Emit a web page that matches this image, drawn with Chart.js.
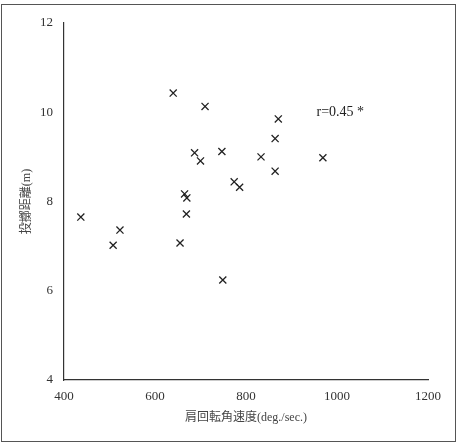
<!DOCTYPE html>
<html>
<head>
<meta charset="utf-8">
<script src="https://cdn.jsdelivr.net/npm/chart.js@4"></script>
<style>
    body { margin: 0; background: #fff; }
    #wrap { position: relative; width: 461px; height: 444px; }
    #frame { position: absolute; left: 1px; top: 4px; width: 453px; height: 436px; border: 1.5px solid #555; }
    canvas { position: absolute; left: 0; top: 0; }
</style>
</head>
<body>
<div id="wrap">
    <div id="frame"></div>
    <canvas id="myChart" width="461" height="444"></canvas>
</div>
<script>
// shoulder rotation angular velocity (deg./sec.)
var speed = [437, 508, 523, 640, 655, 665, 670, 669, 710, 687, 700, 747, 749, 774, 786, 833, 864, 864, 871, 969];
// throwing distance (m)
var distance = [7.65, 7.02, 7.36, 10.43, 7.07, 8.17, 8.08, 7.72, 10.13, 9.09, 8.91, 9.12, 6.24, 8.44, 8.32, 9.0, 9.41, 8.68, 9.85, 8.98];
var xTicks = [400, 600, 800, 1000, 1200];
var yTicks = [4, 6, 8, 10, 12];
var note = "r=0.45 *";

var fontFamily = "'Liberation Serif', 'Noto Sans CJK JP', serif";

var points = speed.map(function (v, i) {
    return { x: v, y: distance[i] };
});

var notePlugin = {
    id: "note",
    afterDraw: function (chart) {
        var ctx = chart.ctx;
        var x = chart.scales.x.getPixelForValue(955);
        var y = chart.scales.y.getPixelForValue(10);
        ctx.save();
        ctx.font = "14px " + fontFamily;
        ctx.fillStyle = "#222";
        ctx.textAlign = "left";
        ctx.textBaseline = "middle";
        ctx.fillText(note, x, y);
        ctx.restore();
    }
};

window.onload = function () {
    var ctx = document.getElementById("myChart").getContext("2d");
    new Chart(ctx, {
        type: "scatter",
        data: {
            datasets: [
                {
                    data: points,
                    pointStyle: "crossRot",
                    radius: 5,
                    borderColor: "#222",
                    borderWidth: 1.3,
                },
            ],
        },
        options: {
            responsive: false,
            animation: false,
            layout: { padding: { left: 0, top: 23, right: 33, bottom: 0 } },
            plugins: { legend: { display: false }, tooltip: { enabled: false } },
            scales: {
                x: {
                    min: 400,
                    max: 1200,
                    afterBuildTicks: function (s) { s.ticks = xTicks.map(function (v) { return { value: v }; }); },
                    afterFit: function (s) { s.height = 64; },
                    grid: { display: false, drawTicks: false },
                    border: { display: true, color: "#333", width: 1.2 },
                    ticks: {
                        padding: 9,
                        color: "#333",
                        font: { family: fontFamily, size: 13 },
                        callback: function (v) { return String(v); },
                    },
                    title: {
                        display: true,
                        text: "肩回転角速度(deg./sec.)",
                        color: "#444",
                        padding: { top: 0, bottom: 19 },
                        font: { family: fontFamily, size: 12 },
                    },
                },
                y: {
                    min: 4,
                    max: 12,
                    afterBuildTicks: function (s) { s.ticks = yTicks.map(function (v) { return { value: v }; }); },
                    afterFit: function (s) { s.width = 64; },
                    grid: { display: false, drawTicks: false },
                    border: { display: true, color: "#333", width: 1.2 },
                    ticks: {
                        padding: 11,
                        color: "#333",
                        font: { family: fontFamily, size: 13 },
                        callback: function (v) { return String(v); },
                    },
                    title: {
                        display: true,
                        text: "投擲距離(m)",
                        color: "#444",
                        padding: { top: 20, bottom: 0 },
                        font: { family: fontFamily, size: 12 },
                    },
                },
            },
        },
        plugins: [notePlugin],
    });
};
</script>
</body>
</html>
